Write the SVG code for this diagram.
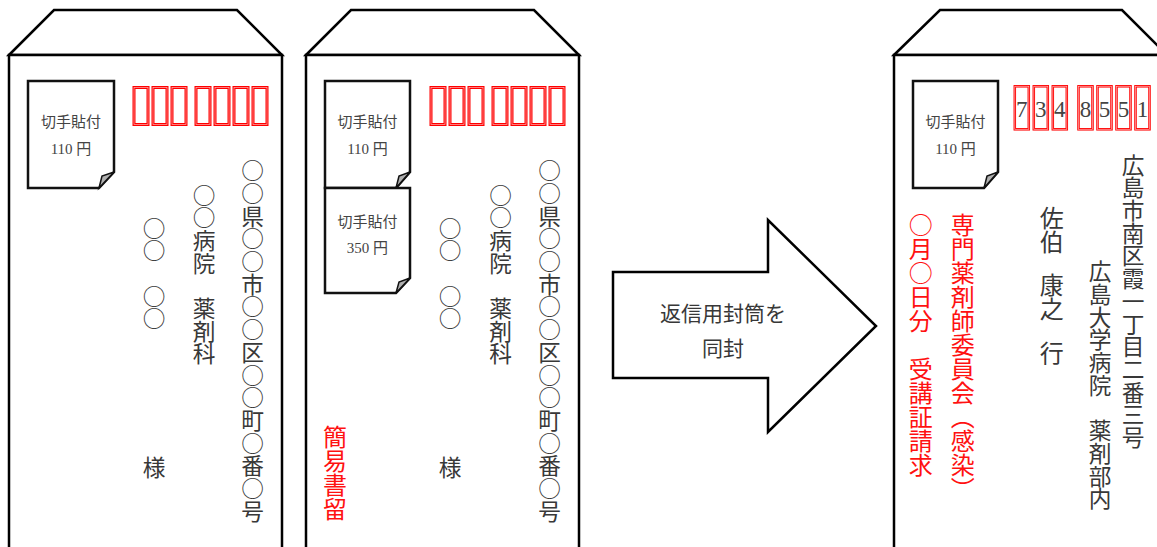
<svg xmlns="http://www.w3.org/2000/svg" width="1157" height="547" viewBox="0 0 1157 547">
<style>
.env{fill:#fff;stroke:#000;stroke-width:2.5;stroke-linejoin:miter}
.stamp{fill:#fff;stroke:#111;stroke-width:2.5;stroke-linejoin:miter}
.curl{fill:#b0b0b0;stroke:#111;stroke-width:1.5;stroke-linejoin:miter}
.pc{fill:none;stroke:#f00;stroke-width:3}
.pci{fill:none;stroke:#ffb3b3;stroke-width:0.7}
.v{writing-mode:vertical-rl;font-family:"Noto Sans CJK JP","Noto Sans CJK SC",sans-serif;fill:#383838;font-size:22.7px}
.red{fill:#f11;font-size:24px}
.st{font-family:"Liberation Serif","Noto Sans CJK JP",serif;font-size:15px;fill:#444;text-anchor:middle;dominant-baseline:central}
.dg{font-family:"Liberation Serif",serif;font-size:23px;fill:#444;text-anchor:middle;dominant-baseline:central}
.at{font-family:"Noto Sans CJK JP",sans-serif;font-size:21px;fill:#383838;text-anchor:middle;dominant-baseline:central}
</style>
<defs>
<g id="pcbox"><rect x="0" y="0" width="14" height="37" class="pc"/><rect x="0" y="0" width="14" height="37" class="pci"/></g>
<g id="pcbox3"><rect x="0" y="0" width="14" height="43" class="pc" style="stroke-width:2.5"/><rect x="0" y="0" width="14" height="43" class="pci"/></g>
</defs>
<rect width="1157" height="547" fill="#fff"/>

<g id="env1">
<path class="env" d="M9,55 L54,10 L237,10 L282,55 Z"/>
<path class="env" d="M9,560 V55 H282 V560"/>
<g id="env1-stamp">
<path class="stamp" d="M28,81 H114 V172 L99,188 H28 Z"/>
<path class="curl" d="M114,172 L102,176 L99,188 Z"/>
<text class="st" x="71" y="122">切手貼付</text>
<text class="st" x="71" y="149">110 円</text>
</g>
<g id="env1-postal">
<use href="#pcbox" x="134" y="87.5"/><use href="#pcbox" x="153" y="87.5"/><use href="#pcbox" x="172" y="87.5"/>
<use href="#pcbox" x="196" y="87.5"/><use href="#pcbox" x="215" y="87.5"/><use href="#pcbox" x="234" y="87.5"/><use href="#pcbox" x="253" y="87.5"/>
</g>
<text class="v" x="252.5" y="159.3">○○県○○市○○区○○町○番○号</text>
<text class="v" x="204" y="183.6">○○病院　薬剤科</text>
<text class="v" x="154" y="216.6">○○　○○</text>
<text class="v" x="154" y="455.6">様</text>
</g>

<g id="env2">
<path class="env" d="M306,55 L351,10 L534,10 L579,55 Z"/>
<path class="env" d="M306,560 V55 H579 V560"/>
<g id="env2-stamp1">
<path class="stamp" d="M325,81 H410 V172 L396,188 H325 Z"/>
<path class="curl" d="M410,172 L399,176 L396,188 Z"/>
<text class="st" x="367.5" y="122">切手貼付</text>
<text class="st" x="367.5" y="149">110 円</text>
</g>
<g id="env2-stamp2">
<path class="stamp" d="M325,188 H410 V278 L396,293 H325 Z"/>
<path class="curl" d="M410,278 L399,282 L396,293 Z"/>
<text class="st" x="367.5" y="221.5">切手貼付</text>
<text class="st" x="367.5" y="248">350 円</text>
</g>
<g id="env2-postal">
<use href="#pcbox" x="431" y="87.5"/><use href="#pcbox" x="450" y="87.5"/><use href="#pcbox" x="469" y="87.5"/>
<use href="#pcbox" x="493" y="87.5"/><use href="#pcbox" x="512" y="87.5"/><use href="#pcbox" x="531" y="87.5"/><use href="#pcbox" x="550" y="87.5"/>
</g>
<text class="v" x="549.5" y="159.3">○○県○○市○○区○○町○番○号</text>
<text class="v" x="500.5" y="183.6">○○病院　薬剤科</text>
<text class="v" x="450" y="216.6">○○　○○</text>
<text class="v" x="450" y="455.6">様</text>
<text class="v red" x="335" y="425">簡易書留</text>
</g>

<g id="connectors">
<g id="arrow">
<path class="env" d="M613,272 H768 V220 L876,326 L768,432 V378 H613 Z"/>
<text class="at" x="723" y="311.5">返信用封筒を</text>
<text class="at" x="723" y="346.5">同封</text>
</g>
</g>

<g id="env3">
<path class="env" d="M894,55 L940,10 L1122,10 L1167,55 Z"/>
<path class="env" d="M894,560 V55 H1175"/>
<g id="env3-stamp">
<path class="stamp" d="M913,81 H998 V172 L984,188 H913 Z"/>
<path class="curl" d="M998,172 L987,176 L984,188 Z"/>
<text class="st" x="955.5" y="122">切手貼付</text>
<text class="st" x="955.5" y="149">110 円</text>
</g>
<g id="env3-postal">
<use href="#pcbox3" x="1014.8" y="86.3"/><use href="#pcbox3" x="1033.8" y="86.3"/><use href="#pcbox3" x="1052.8" y="86.3"/>
<use href="#pcbox3" x="1078.5" y="86.3"/><use href="#pcbox3" x="1097.5" y="86.3"/><use href="#pcbox3" x="1116.5" y="86.3"/><use href="#pcbox3" x="1135.5" y="86.3"/>
<text class="dg" x="1021.8" y="109.5">7</text><text class="dg" x="1040.8" y="109.5">3</text><text class="dg" x="1059.8" y="109.5">4</text>
<text class="dg" x="1085.5" y="109.5">8</text><text class="dg" x="1104.5" y="109.5">5</text><text class="dg" x="1123.5" y="109.5">5</text><text class="dg" x="1142.5" y="109.5">1</text>
</g>
<text class="v" x="1133" y="153.7">広島市南区霞一丁目二番三号</text>
<text class="v" x="1100" y="260.4">広島大学病院　薬剤部内</text>
<text class="v" x="1051.7" y="206" style="font-size:24px">佐伯</text>
<text class="v" x="1051.7" y="273" style="font-size:24px">康之</text>
<text class="v" x="1051.7" y="341" style="font-size:24px">行</text>
<text class="v red" x="962.7" y="213">専門薬剤師委員会（感染）</text>
<text class="v red" x="920.7" y="213">○月○日分　受講証請求</text>
</g>
</svg>
